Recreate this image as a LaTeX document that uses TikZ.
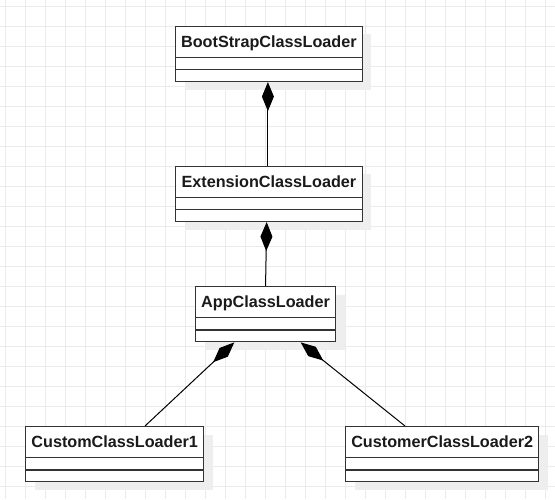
\documentclass[tikz,border=0pt]{standalone}
\usepackage{fontspec}
\setmainfont{Liberation Sans}
\usetikzlibrary{arrows.meta,shadows,calc}
\definecolor{gridc}{HTML}{EBEBEB}
\definecolor{boxline}{HTML}{333333}
\definecolor{shadowc}{HTML}{EEEEEE}
\definecolor{txt}{HTML}{1A1A1A}
\newcommand\umlclass[5]{%
  \node[classbox, minimum width=#4pt] (#1) at (#2,#3) {};
  \node[classtitle, anchor=base] (#1t) at ($(#1.north)+(0,21.3)$) {#5};
  \draw[divider] ($(#1.north west)+(0,31.5)$) -- ($(#1.north east)+(0,31.5)$);
  \draw[divider] ($(#1.north west)+(0,44)$) -- ($(#1.north east)+(0,44)$);
}
\begin{document}
\begin{tikzpicture}[x=1pt,y=-1pt,
  classbox/.style={draw=boxline, line width=1.1pt, fill=white, anchor=north west,
    inner sep=0pt, minimum height=55.3pt,
    drop shadow={shadow xshift=9pt, shadow yshift=-8pt, fill=shadowc, opacity=1}},
  classtitle/.style={font=\fontsize{16.2}{19}\selectfont\bfseries, text=txt, inner sep=0pt},
  divider/.style={draw=boxline, line width=1.1pt},
  comp/.style={draw=black, line width=1pt, arrows={Diamond[length=29pt,width=12pt]-}}]
  \path[use as bounding box] (0,0) rectangle (555,499);
  \fill[white] (0,0) rectangle (555,499);
  \foreach \x in {5,25,...,545} \draw[gridc, line width=1pt] (\x,0) -- (\x,499);
  \foreach \y in {6,26,...,486} \draw[gridc, line width=1pt] (0,\y) -- (555,\y);

  \umlclass{boot}{175}{25.7}{186.7}{BootStrapClassLoader}
  \umlclass{ext}{175}{165.7}{186.7}{ExtensionClassLoader}
  \umlclass{app}{195}{286}{140}{AppClassLoader}
  \umlclass{cone}{25}{426}{178.3}{CustomClassLoader1}
  \umlclass{ctwo}{345}{426}{193.3}{CustomerClassLoader2}

  \draw[comp] ([xshift=-1pt]boot.south) -- ([xshift=-1pt]ext.north);
  \draw[comp] ([xshift=91.7pt]ext.south west) -- (app.north);
  \draw[comp] ([xshift=39.3pt]app.south west) -- ([xshift=120pt]cone.north west);
  \draw[comp] ([xshift=105.7pt]app.south west) -- ([xshift=60pt]ctwo.north west);
\end{tikzpicture}
\end{document}
